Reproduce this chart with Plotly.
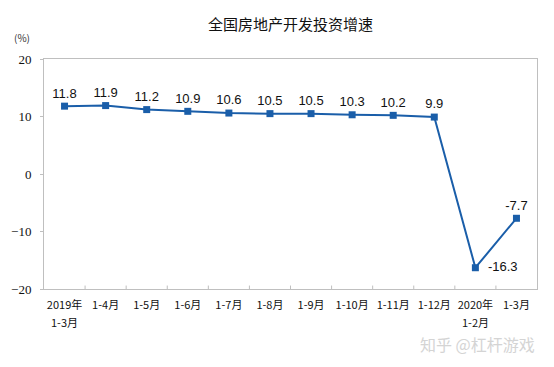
import plotly.graph_objects as go

categories = ["2019年", "1-4月", "1-5月", "1-6月", "1-7月", "1-8月", "1-9月",
              "1-10月", "1-11月", "1-12月", "2020年", "1-3月"]
second_lines = {0: "1-3月", 10: "1-2月"}
values = [11.8, 11.9, 11.2, 10.9, 10.6, 10.5, 10.5, 10.3, 10.2, 9.9, -16.3, -7.7]
text_positions = ["top center"] * 10 + ["middle right", "top center"]
labels = [f"{v:.1f}" for v in values]
labels = [("  " + t) if p == "middle right" else t for t, p in zip(labels, text_positions)]

W, H = 554, 367
fig = go.Figure()
fig.add_trace(go.Scatter(
    x=list(range(len(categories))), y=values, mode="lines+markers+text",
    line=dict(color="#1a5ea9", width=2),
    marker=dict(symbol="square", size=7, color="#1a5ea9"),
    text=labels, textposition=text_positions,
    textfont=dict(family="Liberation Sans, Arial", size=13, color="#111111"),
    cliponaxis=False, showlegend=False, hoverinfo="skip",
))

annotations = [
    dict(text="(%)", xref="paper", yref="paper", x=-0.045, y=1.0, yshift=22,
         xanchor="center", yanchor="middle", showarrow=False,
         font=dict(family="Noto Sans CJK SC", size=10, color="#333333")),
    dict(text="知乎 @杠杆游戏", xref="paper", yref="paper", x=1.0, y=0, yshift=-55,
         xanchor="right", yanchor="middle", showarrow=False,
         font=dict(family="Noto Sans CJK SC", size=16, color="#d4d4d4")),
]
for i, t in second_lines.items():
    annotations.append(dict(text=t, xref="x", yref="paper", x=i, y=0, yshift=-33,
                            xanchor="center", yanchor="middle", showarrow=False,
                            font=dict(family="Noto Sans CJK SC", size=11, color="#111111")))

fig.update_layout(
    width=W, height=H,
    margin=dict(l=44, r=17, t=59, b=78),
    paper_bgcolor="white", plot_bgcolor="white",
    title=dict(text="全国房地产开发投资增速", x=0.5, xref="paper", y=1 - 25 / H,
               xanchor="center", yanchor="middle",
               font=dict(family="Noto Sans CJK SC", size=15, color="#111111")),
    xaxis=dict(
        tickmode="array", tickvals=list(range(len(categories))), ticktext=categories,
        range=[-0.5, len(categories) - 0.5],
        showgrid=False, zeroline=False,
        showline=True, linecolor="#bfbfbf", linewidth=1, mirror=True,
        ticks="", tickfont=dict(family="Noto Sans CJK SC", size=11, color="#111111"),
        ticklabelstandoff=6,
    ),
    yaxis=dict(
        range=[-20, 20], tickvals=[-20, -10, 0, 10, 20],
        showgrid=False, zeroline=False,
        showline=True, linecolor="#bfbfbf", linewidth=1, mirror=True,
        ticks="outside", ticklen=3, tickcolor="#bfbfbf",
        tickfont=dict(family="Liberation Serif", size=13, color="#111111"),
        ticklabelstandoff=6,
    ),
    annotations=annotations,
)

shapes = []
for i in range(1, len(categories)):
    shapes.append(dict(type="line", xref="x", yref="paper", x0=i - 0.5, x1=i - 0.5,
                       y0=0, y1=0.015, line=dict(color="#bfbfbf", width=1)))
fig.update_layout(shapes=shapes)

fig.write_html("out.html", config={"displayModeBar": False},
               post_script="document.body.style.margin='0';")
